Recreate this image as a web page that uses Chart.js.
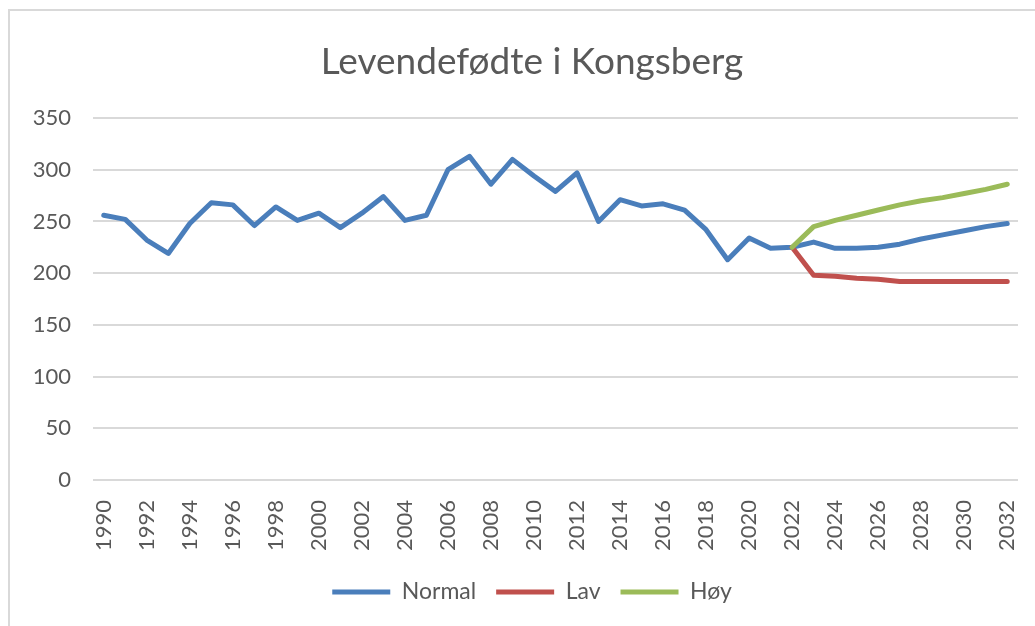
<!DOCTYPE html>
<html lang="no">
<head>
<meta charset="UTF-8">
<title>Levendefødte i Kongsberg</title>
<script src="https://cdn.jsdelivr.net/npm/chart.js"></script>
<style>
  body { margin:0; background:#fff; }
  #wrap { position:relative; width:1035px; height:626px; overflow:hidden; }
  #frame { position:absolute; left:8px; top:9px; width:1100px; height:700px;
           border-top:2px solid #d9d9d9; border-left:2px solid #d9d9d9; }
  #chart { position:absolute; left:0; top:0; }
</style>
</head>
<body>
<div id="wrap">
  <div id="frame"></div>
  <!-- canvas is a bit wider than the page; the original chart box runs off the right edge -->
  <canvas id="chart" width="1081" height="626"></canvas>
</div>

<script>
// categories
const years = [1990,1991,1992,1993,1994,1995,1996,1997,1998,1999,
               2000,2001,2002,2003,2004,2005,2006,2007,2008,2009,
               2010,2011,2012,2013,2014,2015,2016,2017,2018,2019,
               2020,2021,2022,2023,2024,2025,2026,2027,2028,2029,
               2030,2031,2032];

// series
const normal = [256,252,232,219,248,268,266,246,264,251,
                258,244,258,274,251,256,300,313,286,310,
                294,279,297,250,271,265,267,261,242,213,
                234,224,225,230,224,224,225,228,233,237,
                241,245,248];
// projections only from 2022
const lavProj = [225,198,197,195,194,192,192,192,192,192,192];
const hoyProj = [225,245,251,256,261,266,270,273,277,281,286];
const lav = Array(years.length - lavProj.length).fill(null).concat(lavProj);
const hoy = Array(years.length - hoyProj.length).fill(null).concat(hoyProj);

const yTicks = [0,50,100,150,200,250,300,350];

const grey = "#595959";
const font = "Lato";

function line(label, data, color, order){
    return {
        label: label, data: data, order: order,
        borderColor: color, backgroundColor: color,
        borderWidth: 5, borderCapStyle: "round", borderJoinStyle: "round",
        pointRadius: 0, pointHoverRadius: 0, tension: 0, spanGaps: false
    };
}

new Chart(document.getElementById("chart"), {
    type: "line",
    data: {
        labels: years,
        datasets: [
            line("Normal", normal, "#4a7ebb", 2),
            line("Lav", lav, "#c0504d", 1),
            line("Høy", hoy, "#9bbb59", 0)
        ]
    },
    options: {
        responsive: false,
        animation: false,
        layout: { padding: { left: 0, right: 17, top: 0, bottom: 12.5 } },
        plugins: {
            tooltip: { enabled: false },
            title: {
                display: true,
                text: "Levendefødte i Kongsberg",
                color: grey,
                font: { family: font, size: 37, weight: "normal" },
                padding: { top: 40, bottom: 33.6 }
            },
            legend: {
                position: "bottom",
                labels: {
                    color: grey,
                    font: { family: font, size: 23 },
                    usePointStyle: true,
                    pointStyle: "line",
                    pointStyleWidth: 58,
                    padding: 20,
                    sort: (a, b) => a.datasetIndex - b.datasetIndex
                }
            }
        },
        scales: {
            x: {
                offset: true,
                grid: { display: false },
                border: { display: false },
                ticks: {
                    color: grey,
                    font: { family: font, size: 22 },
                    autoSkip: false,
                    minRotation: 90, maxRotation: 90,
                    padding: 12,
                    callback: function(v, i){ return i % 2 === 0 ? String(years[i]) : ""; }
                },
                afterFit: s => { s.height = 80.5; }
            },
            y: {
                min: yTicks[0], max: yTicks[yTicks.length - 1],
                grid: { color: "#d9d9d9", lineWidth: 2, drawTicks: false },
                border: { display: false },
                afterBuildTicks: s => { s.ticks = yTicks.map(v => ({ value: v })); },
                ticks: {
                    color: grey,
                    font: { family: font, size: 22 },
                    padding: 22
                },
                afterFit: s => { s.width = 93; }
            },
            // empty spacer on the right so title and legend sit a little right of centre
            spacer: {
                type: "linear",
                position: "right",
                grid: { display: false },
                border: { display: false },
                ticks: { display: false },
                afterFit: s => { s.width = 46; }
            }
        }
    }
});
</script>
</body>
</html>
